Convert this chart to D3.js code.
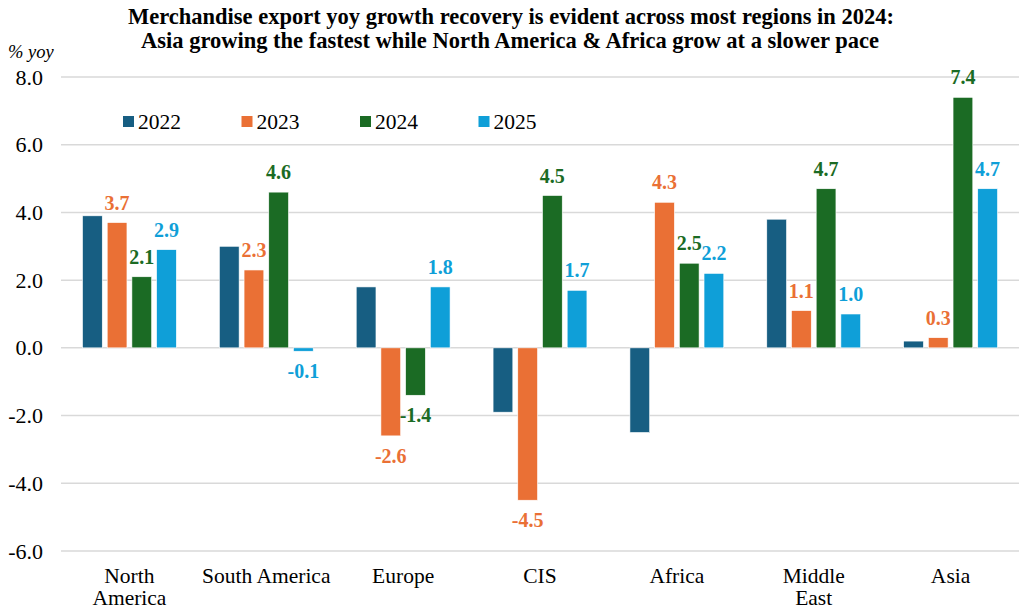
<!DOCTYPE html>
<html>
<head>
<meta charset="utf-8">
<script src="https://cdn.jsdelivr.net/npm/d3@7"></script>
<style>
  body { margin: 0; background: #fff; }
  text { font-family: "Liberation Serif", "Times New Roman", serif; }
</style>
</head>
<body>
<div id="chart"></div>
<script>
// Chart data
var regions = ["North America", "South America", "Europe", "CIS", "Africa", "Middle East", "Asia"];
var regionLines = [["North", "America"], ["South America"], ["Europe"], ["CIS"], ["Africa"], ["Middle", "East"], ["Asia"]];
var years = ["2022", "2023", "2024", "2025"];
var v2022 = [3.9, 3.0, 1.8, -1.9, -2.5, 3.8, 0.2];
var v2023 = [3.7, 2.3, -2.6, -4.5, 4.3, 1.1, 0.3];
var v2024 = [2.1, 4.6, -1.4, 4.5, 2.5, 4.7, 7.4];
var v2025 = [2.9, -0.1, 1.8, 1.7, 2.2, 1.0, 4.7];
var yTicks = [-6, -4, -2, 0, 2, 4, 6, 8];
var showLabel = [false, true, true, true];

var seriesVals = [v2022, v2023, v2024, v2025];
var colors = ["#175e82", "#ea7035", "#1b6b24", "#0f9fd8"];

var W = 1019, H = 613;
var margin = { left: 61, right: 0, top: 77, bottom: 62 };

var svg = d3.select("#chart").append("svg")
	.attr("width", W)
	.attr("height", H);

// Title
var title = svg.append("text")
	.attr("text-anchor", "middle")
	.attr("font-size", "22.5px")
	.attr("font-weight", "bold")
	.attr("fill", "#000");
title.append("tspan").attr("x", 511).attr("y", 24)
	.text("Merchandise export yoy growth recovery is evident across most regions in 2024:");
title.append("tspan").attr("x", 510).attr("y", 48)
	.text("Asia growing the fastest while North America & Africa grow at a slower pace");

svg.append("text")
	.attr("x", 8)
	.attr("y", 58)
	.attr("font-size", "18.5px")
	.attr("font-style", "italic")
	.text("% yoy");

// Scales
var x0 = d3.scaleBand()
	.domain(regions)
	.range([margin.left, W - margin.right])
	.padding(0);

var x1 = d3.scaleBand()
	.domain(years)
	.range([21.5, x0.bandwidth() - 21.5])
	.paddingInner(0.2);

var y = d3.scaleLinear()
	.domain([-6, 8])
	.range([H - margin.bottom, margin.top]);

// Gridlines
svg.append("g")
	.selectAll("line")
	.data(yTicks)
	.enter()
	.append("line")
	.attr("x1", margin.left)
	.attr("x2", W - margin.right)
	.attr("y1", function(d){ return y(d); })
	.attr("y2", function(d){ return y(d); })
	.attr("stroke", "#d9d9d9")
	.attr("stroke-width", 1.5);

// Y axis (plain hyphen for negatives, like the original)
var yAxis = svg.append("g")
	.attr("transform", "translate(46,0)")
	.call(d3.axisLeft(y).tickValues(yTicks).tickSize(0).tickFormat(function(d){ return d.toFixed(1); }));
yAxis.attr("font-family", "Liberation Serif, serif");
yAxis.select(".domain").remove();
yAxis.selectAll("text")
	.attr("font-size", "22px")
	.attr("fill", "#000");

// Bars
var groups = svg.append("g")
	.selectAll("g")
	.data(regions)
	.enter()
	.append("g")
	.attr("transform", function(d){ return "translate(" + x0(d) + ",0)"; });

groups.selectAll("rect")
	.data(function(d, i){
		return years.map(function(yr, k){ return { year: yr, k: k, value: seriesVals[k][i] }; });
	})
	.enter()
	.append("rect")
	.attr("x", function(d){ return x1(d.year); })
	.attr("y", function(d){ return y(Math.max(0, d.value)); })
	.attr("width", x1.bandwidth())
	.attr("height", function(d){ return Math.abs(y(d.value) - y(0)); })
	.attr("fill", function(d){ return colors[d.k]; })
	.attr("stroke", "#fff")
	.attr("stroke-width", 0.6);

// Data labels
groups.selectAll("text.val")
	.data(function(d, i){
		return years.map(function(yr, k){ return { year: yr, k: k, value: seriesVals[k][i] }; })
			.filter(function(d){ return showLabel[d.k]; });
	})
	.enter()
	.append("text")
	.attr("class", "val")
	.attr("text-anchor", "middle")
	.attr("font-size", "20px")
	.attr("font-weight", "bold")
	.attr("fill", function(d){ return colors[d.k]; })
	.attr("x", function(d){ return x1(d.year) + x1.bandwidth() / 2; })
	.attr("y", function(d){
		return d.value >= 0 ? y(d.value) - 13 : y(d.value) + 27;
	})
	.text(function(d){ return d.value.toFixed(1); });

// Category labels
var cat = svg.append("g")
	.selectAll("text")
	.data(regions)
	.enter()
	.append("text")
	.attr("text-anchor", "middle")
	.attr("font-size", "21.5px")
	.attr("fill", "#000")
	.attr("y", 583);
cat.each(function(d, i){
	var t = d3.select(this);
	regionLines[i].forEach(function(line, j){
		t.append("tspan")
			.attr("x", x0(d) + x0.bandwidth() / 2)
			.attr("dy", j === 0 ? 0 : 22)
			.text(line);
	});
});

// Legend
var legend = svg.append("g")
	.selectAll("g")
	.data(years)
	.enter()
	.append("g")
	.attr("transform", function(d, i){ return "translate(" + (123 + i * 118.5) + ",121.5)"; });

legend.append("rect")
	.attr("x", 0)
	.attr("y", -5.5)
	.attr("width", 11)
	.attr("height", 11)
	.attr("fill", function(d, i){ return colors[i]; });

legend.append("text")
	.attr("x", 15)
	.attr("y", 7)
	.attr("font-size", "21.5px")
	.attr("fill", "#000")
	.text(function(d){ return d; });
</script>
</body>
</html>
